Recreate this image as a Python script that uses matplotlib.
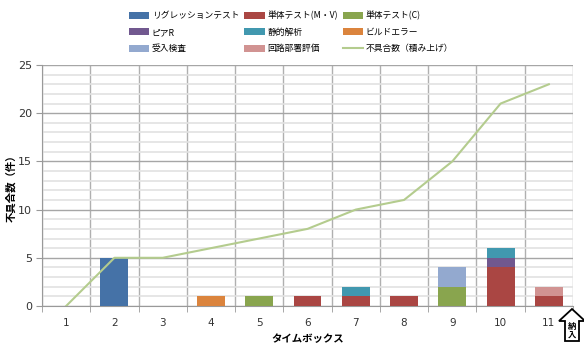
import matplotlib
matplotlib.use('Agg')
import matplotlib.pyplot as plt
import numpy as np
from matplotlib.patches import Polygon
from matplotlib.ticker import MultipleLocator, FixedLocator

plt.rcParams['font.family'] = ['Noto Sans CJK JP', 'DejaVu Sans']

# タイムボックスごとの不具合件数
timeboxes = ['1', '2', '3', '4', '5', '6', '7', '8', '9', '10', '11']
regression = [0, 5, 0, 0, 0, 0, 0, 0, 0, 0, 0]
unit_mv = [0, 0, 0, 0, 0, 1, 1, 1, 0, 4, 1]
unit_c = [0, 0, 0, 0, 1, 0, 0, 0, 2, 0, 0]
peer_review = [0, 0, 0, 0, 0, 0, 0, 0, 0, 1, 0]
static_analysis = [0, 0, 0, 0, 0, 0, 1, 0, 0, 1, 0]
build_error = [0, 0, 0, 1, 0, 0, 0, 0, 0, 0, 0]
acceptance = [0, 0, 0, 0, 0, 0, 0, 0, 2, 0, 0]
circuit_eval = [0, 0, 0, 0, 0, 0, 0, 0, 0, 0, 1]
cumulative = [0, 5, 5, 6, 7, 8, 10, 11, 15, 21, 23]

series = [
    ('リグレッションテスト', regression, '#4572A7'),
    ('単体テスト(M・V)', unit_mv, '#AA4643'),
    ('単体テスト(C)', unit_c, '#89A54E'),
    ('ピアR', peer_review, '#71588F'),
    ('静的解析', static_analysis, '#4198AF'),
    ('ビルドエラー', build_error, '#DB843D'),
    ('受入検査', acceptance, '#93A9CF'),
    ('回路部署評価', circuit_eval, '#D19392'),
]

fig = plt.figure(figsize=(5.84, 3.43), dpi=100)
ax = fig.add_axes([42/584, 37/343, 531/584, 241/343])

x = np.arange(len(timeboxes))
bottom = np.zeros(len(timeboxes))
handles = []
for name, vals, col in series:
    b = ax.bar(x, vals, width=0.58, bottom=bottom, color=col, label=name,
               edgecolor='none', zorder=3)
    handles.append(b)
    bottom += np.array(vals)

ln, = ax.plot(x, cumulative, color='#B4CC8E', lw=1.5, label='不具合数（積み上げ）', zorder=4)
handles.append(ln)

ax.set_xlim(-0.5, len(timeboxes) - 0.5)
ax.set_ylim(0, 25)
ax.set_xticks(x)
ax.set_xticklabels(timeboxes, family='DejaVu Sans', fontsize=7.5, color='#333333')
ax.xaxis.set_minor_locator(FixedLocator(np.arange(-0.5, len(timeboxes), 1.0)))
ax.yaxis.set_major_locator(MultipleLocator(5))
ax.yaxis.set_minor_locator(MultipleLocator(1))
for t in ax.get_yticklabels():
    t.set_family('DejaVu Sans')
    t.set_fontsize(8)
    t.set_color('#333333')

ax.tick_params(axis='x', which='major', length=0, pad=9)
ax.tick_params(axis='x', which='minor', length=4, color='#999999')
ax.tick_params(axis='y', which='major', length=4, color='#999999', pad=3)
ax.tick_params(axis='y', which='minor', length=0)

ax.grid(axis='y', which='minor', color='#E2E2E2', lw=1.2, zorder=0)
ax.grid(axis='y', which='major', color='#A6A6A6', lw=1.0, zorder=1)
ax.grid(axis='x', which='minor', color='#B0B0B0', lw=1.0, zorder=1)

for s in ['top', 'right']:
    ax.spines[s].set_visible(False)
ax.spines['left'].set_color('#999999')
ax.spines['bottom'].set_color('#999999')

fig.text(11 / 584, 1 - 186 / 343, '不具合数（件）', rotation=90, ha='center', va='center',
         fontsize=7.5, fontweight='bold')
ax.set_xlabel('タイムボックス', fontsize=7.5, fontweight='bold', labelpad=4)

# 凡例は行方向に並べる
order = [0, 3, 6, 1, 4, 7, 2, 5, 8]
fig.legend(handles=[handles[i] for i in order], loc='upper left',
           bbox_to_anchor=(121/584, 1 - 3/343),
           ncol=3, frameon=False, fontsize=6.3, handlelength=2.3, handleheight=0.8,
           handletextpad=0.3, columnspacing=0.6, labelspacing=0.85)

# 納入の矢印
W, H = 584, 343
pts = [(572, 309), (585, 321), (579, 321), (579, 341), (565, 341), (565, 321), (559, 321)]
arrow = Polygon([(px / W, 1 - py / H) for px, py in pts], closed=True,
                transform=fig.transFigure, facecolor='white', edgecolor='black', lw=1.3)
fig.patches.append(arrow)
fig.text(572 / W, 1 - 326 / H, '納', ha='center', va='center', fontsize=6, fontweight='bold')
fig.text(572 / W, 1 - 335.5 / H, '入', ha='center', va='center', fontsize=6, fontweight='bold')

fig.savefig('out.png', dpi=100)
